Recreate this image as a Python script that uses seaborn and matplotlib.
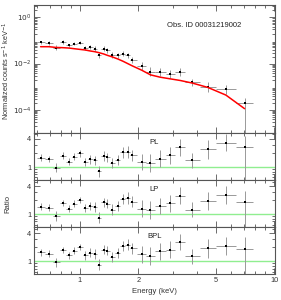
import numpy as np
import pandas as pd
import seaborn as sns
import matplotlib
matplotlib.use("Agg")
import matplotlib.pyplot as plt
from matplotlib.ticker import FixedLocator, NullFormatter, LogLocator

# bin centres and edges (keV)
energy = [0.627, 0.692, 0.752, 0.817, 0.878, 0.935, 0.996, 1.065, 1.130, 1.190,
          1.253, 1.324, 1.383, 1.468, 1.564, 1.666, 1.761, 1.861, 2.079, 2.305,
          2.585, 2.910, 3.278, 3.793, 4.550, 5.636, 7.033]
edges = [0.598, 0.660, 0.723, 0.786, 0.847, 0.906, 0.965, 1.032, 1.100, 1.162,
         1.223, 1.288, 1.356, 1.428, 1.515, 1.614, 1.713, 1.810, 1.967, 2.189,
         2.445, 2.764, 3.088, 3.477, 4.155, 5.004, 6.371, 7.731]

# normalized counts s^-1 keV^-1
counts = [0.0828, 0.0775, 0.0488, 0.0855, 0.0615, 0.0725, 0.080, 0.0472, 0.0504, 0.0442,
          0.0228, 0.0442, 0.0374, 0.0236, 0.0228, 0.0269, 0.0228, 0.0144, 0.00768, 0.00453,
          0.00424, 0.0036, 0.00424, 0.00152, 0.00096, 0.00076, 0.00019]
model = [0.0538, 0.0538, 0.050, 0.0488, 0.047, 0.044, 0.0413, 0.0387, 0.0351, 0.0328,
         0.0297, 0.0261, 0.0228, 0.0194, 0.0159, 0.0126, 0.0100, 0.00794, 0.00517, 0.00326,
         0.00258, 0.00219, 0.00186, 0.00143, 0.00093, 0.000434, 0.000112]
# error half-size in dex
err_dex = [0.07, 0.07, 0.10, 0.07, 0.08, 0.07, 0.07, 0.09, 0.09, 0.10,
           0.12, 0.10, 0.10, 0.11, 0.11, 0.11, 0.12, 0.12, 0.18, 0.19,
           0.18, 0.18, 0.18, 0.16, 0.20, 0.19, 0.25]

ratio_pl = [1.60, 1.50, 0.97, 1.76, 1.31, 1.67, 1.97, 1.29, 1.47, 1.40,
            0.81, 1.73, 1.62, 1.21, 1.43, 2.06, 2.10, 1.79, 1.29, 1.21,
            1.52, 1.79, 2.67, 1.40, 2.39, 3.35, 2.67]
ratio_lp = [1.46, 1.39, 0.92, 1.74, 1.32, 1.69, 2.02, 1.34, 1.50, 1.43,
            0.84, 1.80, 1.69, 1.26, 1.50, 2.12, 2.23, 1.86, 1.32, 1.22,
            1.50, 1.71, 2.49, 1.24, 1.92, 2.58, 1.80]
ratio_bpl = [1.55, 1.46, 0.95, 1.74, 1.34, 1.69, 2.02, 1.34, 1.53, 1.43,
             0.84, 1.77, 1.69, 1.24, 1.50, 2.15, 2.26, 1.89, 1.41, 1.30,
             1.63, 1.77, 2.58, 1.28, 1.89, 2.12, 1.86]

obs_label = "Obs. ID 00031219002"
panel_names = ["PL", "LP", "BPL"]

sns.set_style("ticks")
plt.rcParams['font.family'] = ['Liberation Sans', 'DejaVu Sans']
plt.rcParams['font.size'] = 5.5

E = np.array(energy)
ed = np.array(edges)
xerr = np.vstack([E - ed[:-1], ed[1:] - E])
dex = np.array(err_dex)

fig = plt.figure(figsize=(2.81, 3.0), dpi=100)
left, width = 0.121, 0.858
ax0 = fig.add_axes([left, 0.557, width, 0.426])
h = 0.157
axr = [fig.add_axes([left, 0.557 - h * (i + 1), width, h], sharex=ax0) for i in range(3)]

frame_c = "#555555"
err_c = "#999999"
txt_c = "#333333"


def style(ax):
    ax.set_xscale("log")
    ax.set_yscale("log")
    ax.set_xlim(0.58, 10.1)
    ax.xaxis.set_major_locator(FixedLocator([1, 2, 5, 10]))
    ax.xaxis.set_minor_locator(FixedLocator([0.6, 0.7, 0.8, 0.9, 3, 4, 6, 7, 8, 9]))
    ax.xaxis.set_minor_formatter(NullFormatter())
    ax.tick_params(which="both", direction="in", top=True, right=True,
                   colors=frame_c, labelcolor=txt_c, width=0.6, pad=2, labelsize=5.3)
    ax.tick_params(which="major", length=4)
    ax.tick_params(which="minor", length=2)
    for s in ax.spines.values():
        s.set_color(frame_c)
        s.set_linewidth(0.8)


# spectrum
c = np.array(counts)
ylo = c * (1 - 10 ** -dex)
ylo[-1] = c[-1] - 1e-7
yhi = c * (10 ** dex - 1)
ax0.errorbar(E, c, xerr=xerr, yerr=[ylo, yhi], fmt="none", ecolor=err_c, elinewidth=0.7, zorder=2)
spec = pd.DataFrame({"E": E, "counts": c, "model": model})
sns.scatterplot(data=spec, x="E", y="counts", ax=ax0, marker="s", s=4, color="black",
                linewidth=0, zorder=3)
sns.lineplot(data=spec, x="E", y="model", ax=ax0, color="red", linewidth=1.1, zorder=4)
style(ax0)
ax0.set_ylim(1e-5, 3.4)
ax0.yaxis.set_major_locator(FixedLocator([1e-4, 1e-2, 1]))
ax0.yaxis.set_minor_locator(LogLocator(base=10, subs=np.arange(2, 10), numticks=20))
ax0.yaxis.set_minor_formatter(NullFormatter())
ax0.set_yticklabels([r"$10^{-4}$", r"$10^{-2}$", r"$10^{0}$"])
ax0.tick_params(axis="x", labelbottom=False)
ax0.set_xlabel("")
ax0.set_ylabel("")
fig.text(0.022, 0.765, r"Normalized counts s$^{-1}$ keV$^{-1}$", rotation=90,
         ha="center", va="center", fontsize=5.3, color=txt_c)
ax0.text(0.55, 0.83, obs_label, transform=ax0.transAxes, fontsize=5.5, color="#222222")

for ax, name, r in zip(axr, panel_names, [ratio_pl, ratio_lp, ratio_bpl]):
    r = np.array(r)
    rlo = r * (1 - 10 ** -dex)
    rlo[-1] = r[-1] - 0.1
    rhi = r * (10 ** dex - 1)
    ax.axhline(1, color="#90ee90", linewidth=1.0, zorder=1)
    ax.errorbar(E, r, xerr=xerr, yerr=[rlo, rhi], fmt="none", ecolor=err_c, elinewidth=0.7, zorder=2)
    df = pd.DataFrame({"E": E, "ratio": r})
    sns.scatterplot(data=df, x="E", y="ratio", ax=ax, marker="s", s=3, color="black",
                    linewidth=0, zorder=3)
    style(ax)
    ax.set_ylim(0.53, 5.4)
    ax.yaxis.set_major_locator(FixedLocator([1, 4]))
    ax.yaxis.set_minor_locator(FixedLocator([0.6, 0.7, 0.8, 0.9, 2, 3, 5]))
    ax.yaxis.set_minor_formatter(NullFormatter())
    ax.set_yticklabels(["1", "4"])
    ax.set_ylabel("")
    ax.set_xlabel("")
    ax.text(0.5, 0.88, name, transform=ax.transAxes, ha="center", va="top", fontsize=5.5, color="#222222")
    if ax is not axr[-1]:
        ax.tick_params(axis="x", labelbottom=False)

axr[-1].set_xticklabels(["1", "2", "5", "10"])
axr[-1].set_xlabel("Energy (keV)", color=txt_c, labelpad=3)
fig.text(0.028, 0.557 - 1.5 * h, "Ratio", rotation=90, ha="center", va="center", fontsize=5.5, color=txt_c)

fig.savefig("out.png", dpi=100)
